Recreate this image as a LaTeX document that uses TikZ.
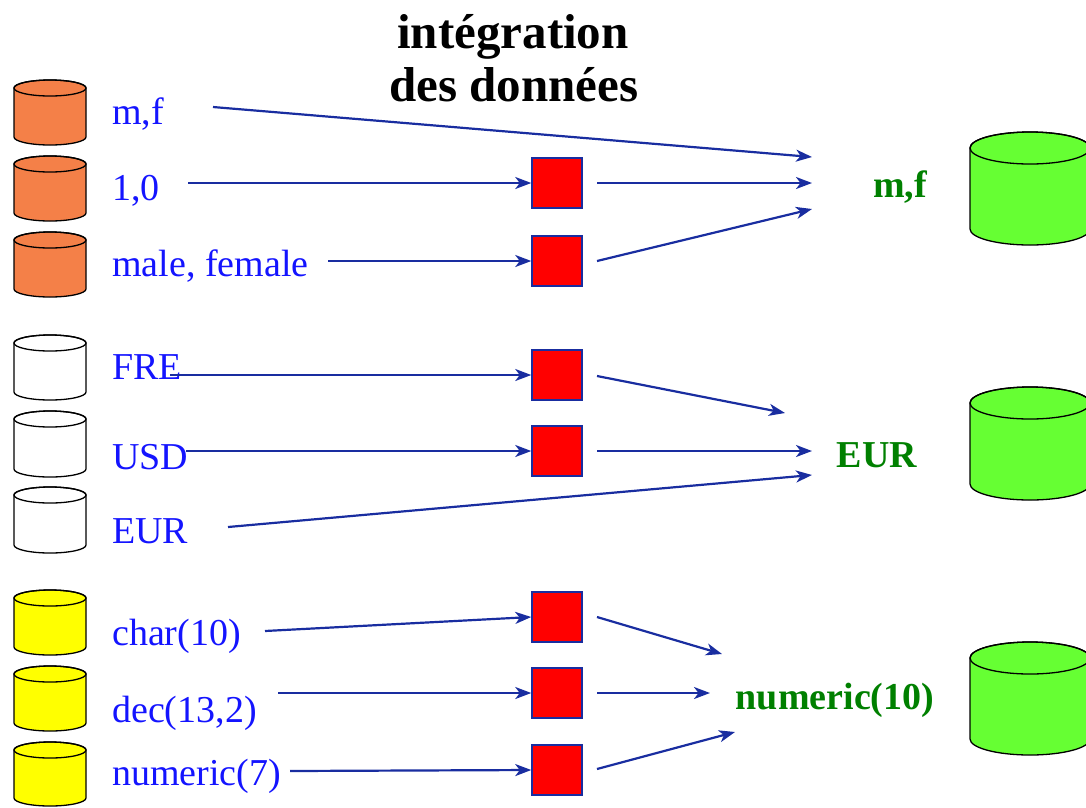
\documentclass[tikz,border=0pt]{standalone}
\usepackage{fontspec}
\setmainfont{Liberation Serif}
\usetikzlibrary{arrows.meta}
\definecolor{arrowblue}{RGB}{25,45,160}
\definecolor{labblue}{RGB}{20,20,255}
\definecolor{labgreen}{RGB}{0,128,0}
\definecolor{orangedb}{RGB}{244,128,72}
\definecolor{greendb}{RGB}{102,255,51}
\definecolor{yellowdb}{RGB}{255,255,0}
\newcommand\dbcyl[6]{% #1 xc, #2 top, #3 bottom, #4 rx, #5 ry, #6 fill
  \filldraw[dbline, fill=#6] (#1-#4, #2+#5) -- (#1-#4, #3-#5)
    arc[start angle=180, end angle=0, x radius=#4, y radius=#5]
    -- (#1+#4, #2+#5)
    arc[start angle=0, end angle=-180, x radius=#4, y radius=#5] -- cycle;
  \draw[dbline] (#1, #2+#5) ellipse[x radius=#4, y radius=#5];
}
\begin{document}
\begin{tikzpicture}[x=1pt,y=-1pt,
  lab/.style={anchor=base west, inner sep=0, text=labblue, font=\fontsize{38}{40}\selectfont},
  res/.style={anchor=base, inner sep=0, text=labgreen, font=\fontsize{38}{40}\selectfont\bfseries},
  ttl/.style={anchor=base, inner sep=0, text=black, font=\fontsize{49}{50}\selectfont\bfseries},
  conv/.style={draw=arrowblue, fill=red, line width=1.5pt, minimum width=50pt, minimum height=50pt, inner sep=0},
  flow/.style={draw=arrowblue, line width=2.2pt, -{Stealth[length=16pt,width=12pt,inset=4.5pt]}},
  dbline/.style={draw=black, line width=1.3pt}]
\useasboundingbox (0,0) rectangle (1086,807);

% title
\node[ttl] (t1line) at (513,48) {intégration};
\node[ttl] (t2line) at (514,101) {des données};

% source databases
\dbcyl{50}{80}{145}{36}{8}{orangedb}
\dbcyl{50}{156}{221}{36}{8}{orangedb}
\dbcyl{50}{232}{297}{36}{8}{orangedb}
\dbcyl{50}{335}{400}{36}{8}{white}
\dbcyl{50}{411}{477}{36}{8}{white}
\dbcyl{50}{487}{553}{36}{8}{white}
\dbcyl{50}{590}{655}{36}{8}{yellowdb}
\dbcyl{50}{666}{731}{36}{8}{yellowdb}
\dbcyl{50}{742}{806}{36}{8}{yellowdb}

% target databases
\dbcyl{1030}{132}{245}{60}{16}{greendb}
\dbcyl{1030}{387}{500}{60}{16}{greendb}
\dbcyl{1030}{642}{755}{60}{16}{greendb}

% source labels
\node[lab] (l1) at (112,124) {m,f};
\node[lab] (l2) at (112,200) {1,0};
\node[lab] (l3) at (112,276) {male, female};
\node[lab] (l4) at (112,379) {FRE};
\node[lab] (l5) at (112,469) {USD};
\node[lab] (l6) at (112,543) {EUR};
\node[lab] (l7) at (112,645) {char(10)};
\node[lab] (l8) at (112,722) {dec(13,2)};
\node[lab] (l9) at (112,785) {numeric(7)};

% target labels
\node[res] (r1) at (900,197) {m,f};
\node[res] (r2) at (877,467) {EUR};
\node[res] (r3) at (835,709) {numeric(10)};

% conversion boxes
\node[conv] (s2) at (557,183) {};
\node[conv] (s3) at (557,261) {};
\node[conv] (s4) at (557,375) {};
\node[conv] (s5) at (557,451) {};
\node[conv] (s7) at (557,617) {};
\node[conv] (s8) at (557,693) {};
\node[conv] (s9) at (557,770) {};

% arrow endpoints
\coordinate (a1) at (213,107);
\coordinate (a2) at (188,183);
\coordinate (a3) at (328,261);
\coordinate (a4) at (170,375);
\coordinate (a5) at (186,451);
\coordinate (a6) at (228,527);
\coordinate (a7) at (265,631);
\coordinate (a8) at (278,693);
\coordinate (a9) at (290,771);
\coordinate (b2) at (597,183);
\coordinate (b3) at (597,261);
\coordinate (b4) at (597,376);
\coordinate (b5) at (597,451);
\coordinate (b7) at (597,617);
\coordinate (b8) at (597,693);
\coordinate (b9) at (597,769);
\coordinate (e1) at (812,157);
\coordinate (e2) at (812,183);
\coordinate (e3) at (812,209);
\coordinate (e4) at (785,413);
\coordinate (e5) at (812,451);
\coordinate (e6) at (812,475);
\coordinate (e7) at (722,654);
\coordinate (e8) at (710,693);
\coordinate (e9) at (735,732);

% arrows
\draw[flow] (a1) -- (e1);
\draw[flow] (a2) -- (s2.west);
\draw[flow] (b2) -- (e2);
\draw[flow] (a3) -- (s3.west);
\draw[flow] (b3) -- (e3);
\draw[flow] (a4) -- (s4.west);
\draw[flow] (b4) -- (e4);
\draw[flow] (a5) -- (s5.west);
\draw[flow] (b5) -- (e5);
\draw[flow] (a6) -- (e6);
\draw[flow] (a7) -- (s7.west);
\draw[flow] (b7) -- (e7);
\draw[flow] (a8) -- (s8.west);
\draw[flow] (b8) -- (e8);
\draw[flow] (a9) -- (s9.west);
\draw[flow] (b9) -- (e9);
\end{tikzpicture}
\end{document}
